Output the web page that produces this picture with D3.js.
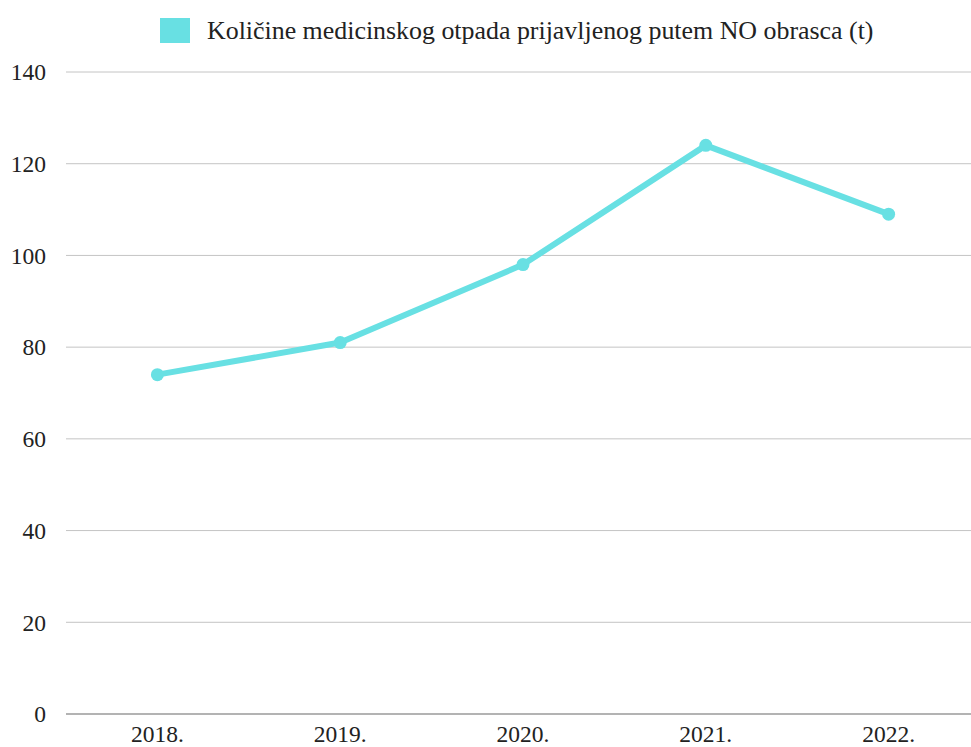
<!DOCTYPE html>
<html><head><meta charset="utf-8">
<script src="https://cdn.jsdelivr.net/npm/d3@7"></script>
<style>body{margin:0;background:#fff;}svg{display:block;}</style>
</head><body>
<svg id="c" width="971" height="747"></svg>
<script>
const categories = ["2018.", "2019.", "2020.", "2021.", "2022."];
const values = [74, 81, 98, 124, 109];
const yTicks = [0, 20, 40, 60, 80, 100, 120, 140];
const seriesName = "Količine medicinskog otpada prijavljenog putem NO obrasca (t)";
const color = "#68e0e3";
const font = "Liberation Serif";

const svg = d3.select("#c");
const x = d3.scaleBand().domain(categories).range([66, 980]);
const y = d3.scaleLinear().domain([0, 140]).range([714, 72]);

const grid = svg.append("g");
grid.selectAll("line").data(yTicks).join("line")
  .attr("x1", 66).attr("x2", 971)
  .attr("y1", d => y(d)).attr("y2", d => y(d))
  .attr("stroke", d => d === 0 ? "#9a9a9a" : "#c4c4c4")
  .attr("stroke-width", d => d === 0 ? 1.5 : 1);

svg.append("g").selectAll("text").data(yTicks).join("text")
  .attr("x", 46).attr("y", d => y(d)).attr("dy", "0.35em")
  .attr("text-anchor", "end")
  .style("font-family", font).style("font-size", "23.5px").attr("fill", "#222")
  .text(d => d);

svg.append("g").selectAll("text").data(categories).join("text")
  .attr("x", d => x(d) + x.bandwidth() / 2).attr("y", 742)
  .attr("text-anchor", "middle")
  .style("font-family", font).style("font-size", "23.5px").attr("fill", "#222")
  .text(d => d);

const pts = categories.map((c, i) => [x(c) + x.bandwidth() / 2, y(values[i])]);
svg.append("path").attr("d", d3.line()(pts))
  .attr("fill", "none").attr("stroke", color).attr("stroke-width", 6)
  .attr("stroke-linejoin", "round");
svg.append("g").selectAll("circle").data(pts).join("circle")
  .attr("cx", d => d[0]).attr("cy", d => d[1]).attr("r", 6.5).attr("fill", color);

const lg = svg.append("g");
lg.append("rect").attr("x", 160).attr("y", 18).attr("width", 30).attr("height", 25).attr("fill", color);
lg.append("text").attr("x", 207).attr("y", 39)
  .style("font-family", font).style("font-size", "25.9px").attr("fill", "#222")
  .text(seriesName);
</script>
</body></html>
